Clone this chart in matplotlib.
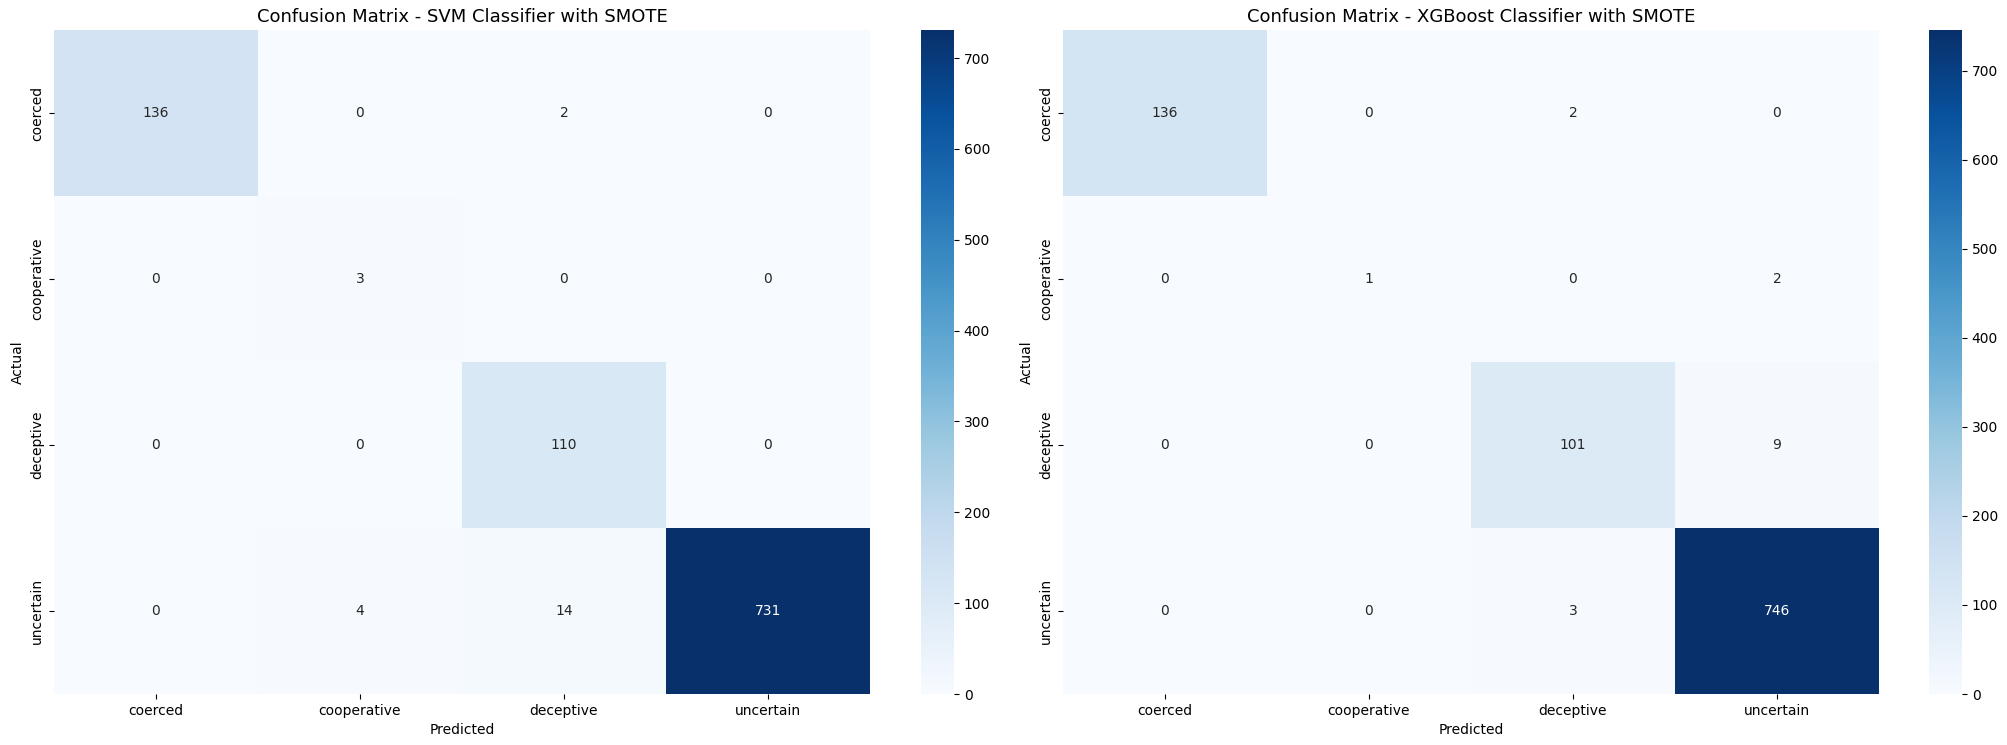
import numpy as np
import matplotlib
matplotlib.use("Agg")
import matplotlib.pyplot as plt
import seaborn as sns

CLASSES = ["coerced", "cooperative", "deceptive", "uncertain"]

SVM_CM = [
    [136, 0, 2, 0],
    [0, 3, 0, 0],
    [0, 0, 110, 0],
    [0, 4, 14, 731],
]

XGB_CM = [
    [136, 0, 2, 0],
    [0, 1, 0, 2],
    [0, 0, 101, 9],
    [0, 0, 3, 746],
]

TITLES = [
    "Confusion Matrix - SVM Classifier with SMOTE",
    "Confusion Matrix - XGBoost Classifier with SMOTE",
]

W, H = 2008, 745
fig = plt.figure(figsize=(W / 100, H / 100), dpi=100)

# axes boxes in pixels: left edge of each heatmap and colorbar
heat_x = [54, 1063]
cbar_x = [921, 1929]
heat_w, cbar_w = 816, 33
top, bottom = 30, 694

for i, (cm, title) in enumerate(zip([SVM_CM, XGB_CM], TITLES)):
    ax = fig.add_axes([heat_x[i] / W, (H - bottom) / H, heat_w / W, (bottom - top) / H])
    cax = fig.add_axes([cbar_x[i] / W, (H - bottom) / H, cbar_w / W, (bottom - top) / H])
    sns.heatmap(np.array(cm), annot=True, fmt="d", cmap="Blues",
                xticklabels=CLASSES, yticklabels=CLASSES,
                ax=ax, cbar_ax=cax, annot_kws={"fontsize": 10})
    ax.set_title(title, fontsize=13, pad=6)
    ax.set_xlabel("Predicted", fontsize=10)
    ax.set_ylabel("Actual", fontsize=10)
    ax.tick_params(labelsize=10)
    cax.tick_params(labelsize=10)

fig.savefig("out.png", dpi=100)
